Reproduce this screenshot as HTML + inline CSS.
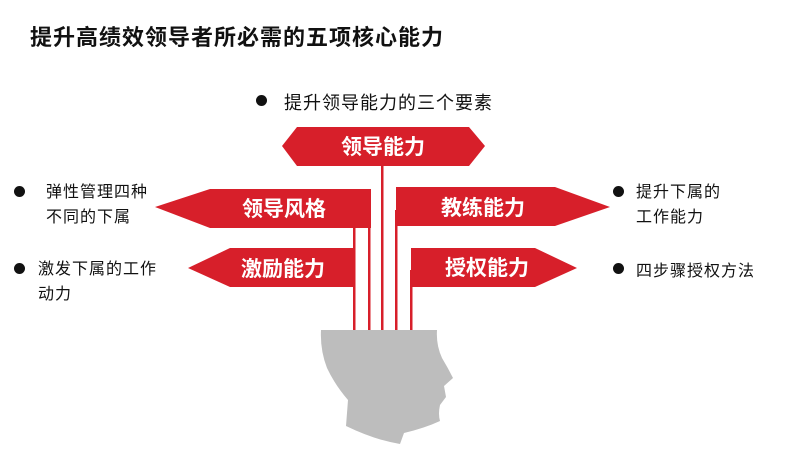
<!DOCTYPE html>
<html><head><meta charset="utf-8"><style>
body{margin:0;width:800px;height:450px;background:#fff;position:relative;overflow:hidden;font-family:"Liberation Sans","Noto Sans CJK SC",sans-serif;color:#111}
.t{position:absolute;white-space:nowrap}
.b{position:absolute;width:11px;height:11px;border-radius:50%;background:#111}
</style></head><body>
<div class="t" style="left:30px;top:20px;font-size:22px;font-weight:bold;letter-spacing:1px">提升高绩效领导者所必需的五项核心能力</div>
<div class="b" style="left:256px;top:95px"></div>
<div class="t" style="left:284px;top:89px;font-size:18px;letter-spacing:1px">提升领导能力的三个要素</div>
<div class="b" style="left:14px;top:186px"></div>
<div class="t" style="left:46px;top:180px;font-size:16px;line-height:25px;letter-spacing:1px">弹性管理四种<br>不同的下属</div>
<div class="b" style="left:14px;top:263px"></div>
<div class="t" style="left:38px;top:257px;font-size:16px;line-height:25px;letter-spacing:1px">激发下属的工作<br>动力</div>
<div class="b" style="left:613px;top:186px"></div>
<div class="t" style="left:636px;top:180px;font-size:16px;line-height:25px;letter-spacing:1px">提升下属的<br>工作能力</div>
<div class="b" style="left:613px;top:263px"></div>
<div class="t" style="left:636px;top:257px;font-size:16px;letter-spacing:1px">四步骤授权方法</div>
<svg width="800" height="450" style="position:absolute;left:0;top:0">
<g fill="#d71f2a">
<rect x="353" y="228" width="2.5" height="102"/>
<rect x="368" y="210" width="2.5" height="120"/>
<rect x="381" y="160" width="2.5" height="170"/>
<rect x="395" y="210" width="2.5" height="120"/>
<rect x="410" y="270" width="2.5" height="60"/>
<polygon points="282,146 297,127 469,127 485,146 469,166 297,166"/>
<polygon points="155,207 210,189 371,189 371,228 210,228"/>
<polygon points="396,187 555,187 610,207 555,226 396,226"/>
<polygon points="188,268 230,248 355,248 355,287 230,287"/>
<polygon points="411,248 535,248 577,268 535,287 411,287"/>
</g>
<path fill="#bdbdbd" d="M321,330 L437,330 Q436,345 442,358 Q448,368 453,378 L444,386 L446,397 L440,405 Q438,414 440,421 Q425,428 404,433 L400,444 Q375,440 346,426 L348,400 Q335,385 327,368 Q320,350 321,330 Z"/>
<g fill="#fff" font-weight="bold" font-size="21" text-anchor="middle" font-family="Liberation Sans,Noto Sans CJK SC,sans-serif">
<text x="383" y="154">领导能力</text>
<text x="284" y="216">领导风格</text>
<text x="483" y="215">教练能力</text>
<text x="283" y="276">激励能力</text>
<text x="487" y="275">授权能力</text>
</g>
</svg>
</body></html>
